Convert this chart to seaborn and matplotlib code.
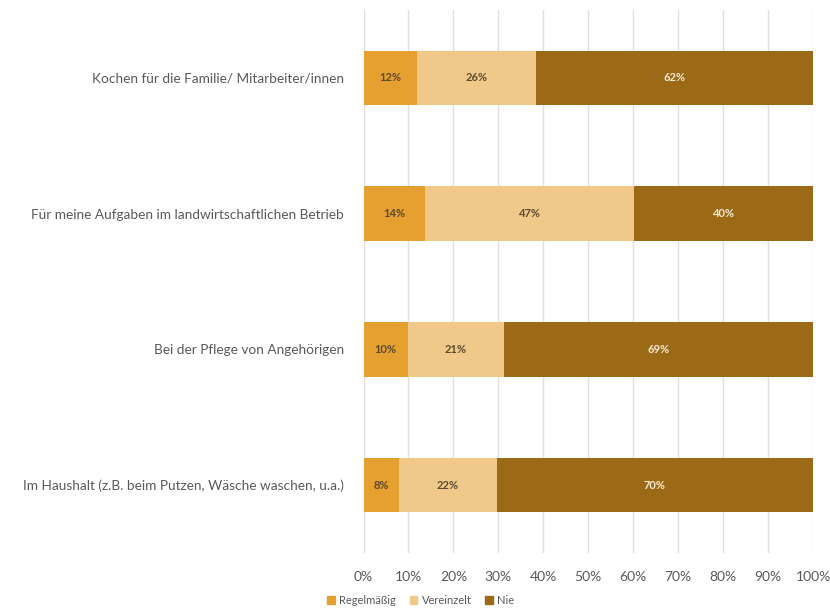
import numpy as np
import matplotlib
matplotlib.use("Agg")
import matplotlib.pyplot as plt
import pandas as pd
import seaborn as sns

# Daten (Anteile in %)
kategorien = ["Kochen für die Familie/ Mitarbeiter/innen",
              "Für meine Aufgaben im landwirtschaftlichen Betrieb",
              "Bei der Pflege von Angehörigen",
              "Im Haushalt (z.B. beim Putzen, Wäsche waschen, u.a.)"]
regelmaessig = [12.0, 13.6, 9.9, 8.0]
vereinzelt = [26.3, 46.6, 21.3, 21.6]
nie = [61.7, 39.8, 68.8, 70.4]
serien = ["Regelmäßig", "Vereinzelt", "Nie"]
farben = ["#E5A030", "#F0C98A", "#9C6A17"]
textfarben = ["#5C4A2E", "#5C4A2E", "#F6EAD2"]
ticks = [0, 10, 20, 30, 40, 50, 60, 70, 80, 90, 100]

sns.set_theme(style="white")
plt.rcParams["font.family"] = ["Lato", "DejaVu Sans"]

DATA = pd.DataFrame({"Kategorie": kategorien,
                     "Regelmäßig": regelmaessig,
                     "Vereinzelt": vereinzelt,
                     "Nie": nie})
# kumulierte Werte fuer gestapelte Balken
DATA["cum1"] = DATA["Regelmäßig"]
DATA["cum2"] = DATA["cum1"] + DATA["Vereinzelt"]
DATA["cum3"] = DATA["cum2"] + DATA["Nie"]

fig = plt.figure(figsize=(8.3, 6.08), dpi=100)
ax = fig.add_axes([0.438, 0.0905, 0.5415, 0.893])

# von hinten nach vorne zeichnen
for col, name, farbe in [("cum3", "Nie", farben[2]),
                         ("cum2", "Vereinzelt", farben[1]),
                         ("cum1", "Regelmäßig", farben[0])]:
    sns.barplot(data=DATA, x=col, y="Kategorie", orient="h", color=farbe,
                width=0.4, ax=ax, saturation=1, linewidth=0, zorder=3)

# Beschriftungen in den Balken
for i in range(len(kategorien)):
    links = 0
    for j, s in enumerate(serien):
        v = DATA[s][i]
        ax.text(links + v / 2, i, f"{v:.0f}%", ha="center", va="center",
                fontsize=8, fontweight="bold", color=textfarben[j], zorder=5)
        links += v

ax.set_xlim(0, 100)
ax.set_ylim(3.5, -0.5)
ax.set_xticks(ticks)
ax.set_xticklabels([f"{t}%" for t in ticks])
ax.xaxis.grid(True, color="#E0E0E0", linewidth=1, zorder=0)
ax.set_axisbelow(True)
ax.set_xlabel("")
ax.set_ylabel("")
ax.tick_params(axis="x", length=0, pad=13, labelsize=10, labelcolor="#595959")
ax.tick_params(axis="y", length=0, pad=14, labelsize=9.8, labelcolor="#595959")
for sp in ax.spines.values():
    sp.set_visible(False)

# Legende
handles = [plt.Rectangle((0, 0), 1, 1, color=c) for c in farben]
fig.legend(handles, serien, loc="center", bbox_to_anchor=(0.507, 0.013),
           ncol=3, frameon=False, fontsize=8, handlelength=0.7,
           handleheight=0.7, handletextpad=0.4, columnspacing=1.2,
           labelcolor="#595959")

plt.savefig("out.png", dpi=100)
